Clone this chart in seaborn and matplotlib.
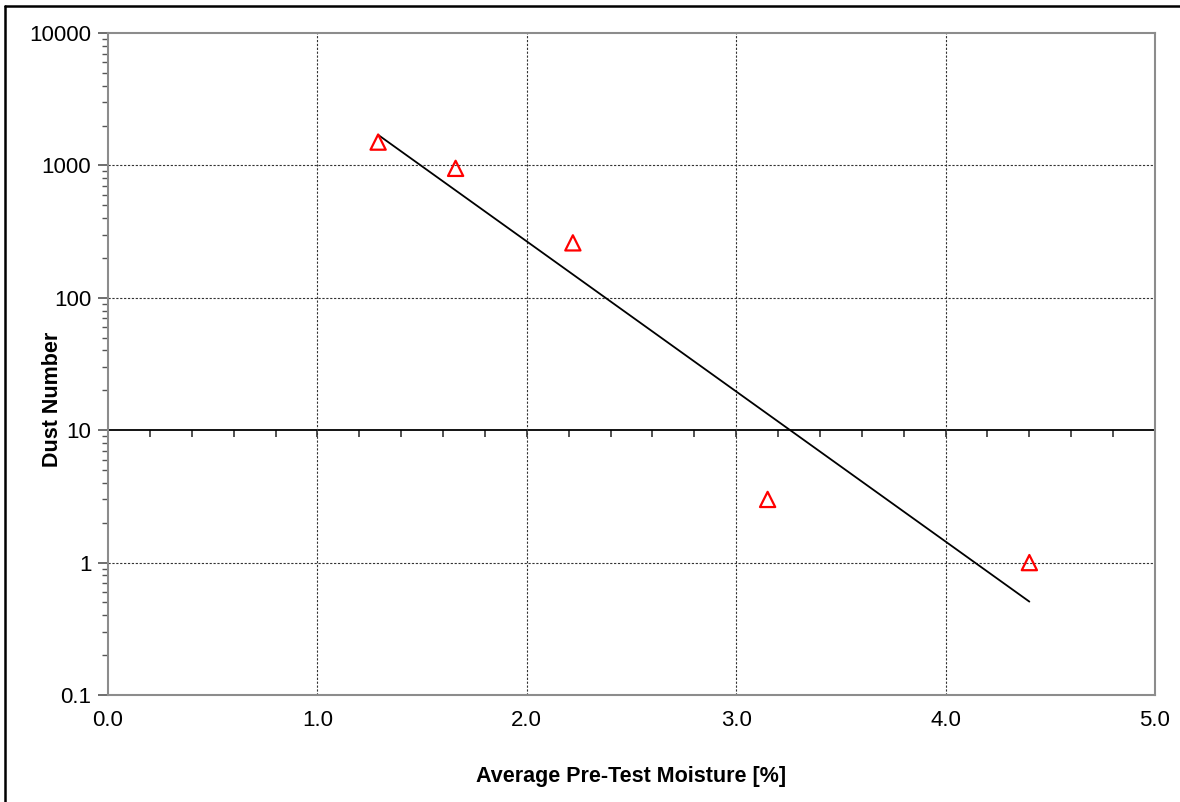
import numpy as np
import pandas as pd
import seaborn as sns
import matplotlib
matplotlib.use("Agg")
import matplotlib.pyplot as plt
from matplotlib.ticker import LogLocator, NullFormatter
from matplotlib.lines import Line2D

# Data
moisture = [1.29, 1.66, 2.22, 3.15, 4.40]
dust_number = [1500, 950, 260, 3.0, 1.0]

x_ticks = [0.0, 1.0, 2.0, 3.0, 4.0, 5.0]
x_tick_labels = ["0.0", "1.0", "2.0", "3.0", "4.0", "5.0"]
y_ticks = [0.1, 1, 10, 100, 1000, 10000]
y_tick_labels = ["0.1", "1", "10", "100", "1000", "10000"]

sns.set_theme(style="white")
plt.rcParams['font.family'] = ['Liberation Sans', 'DejaVu Sans']
plt.rcParams['text.color'] = 'black'
plt.rcParams['axes.labelcolor'] = 'black'
plt.rcParams['xtick.labelcolor'] = 'black'
plt.rcParams['ytick.labelcolor'] = 'black'

fig = plt.figure(figsize=(11.8, 8.02), dpi=100)
ax = fig.add_axes([108/1180, 1-695/802, (1155-108)/1180, (695-33)/802])

df = pd.DataFrame({"x": moisture, "y": dust_number})

# Exponential trend line (least squares on log values)
slope, intercept = np.polyfit(df["x"], np.log(df["y"]), 1)
trend = pd.DataFrame({"x": [min(moisture), max(moisture)]})
trend["y"] = np.exp(intercept + slope * trend["x"])

ax.set_yscale("log")
ax.set_xlim(0, 5)
ax.set_ylim(0.1, 10000)

# grid
for xv in x_ticks[1:-1]:
    ax.axvline(xv, color="#333333", lw=0.8, ls=(0, (2, 1.5)), zorder=1)
for yv in y_ticks[1:-1]:
    if yv == 10:
        continue
    ax.axhline(yv, color="#333333", lw=0.8, ls=(0, (2, 1.5)), zorder=1)

sns.lineplot(data=trend, x="x", y="y", ax=ax, color="black", lw=1.3, zorder=3)
sns.scatterplot(data=df, x="x", y="y", ax=ax, marker="^", s=120,
                facecolor="none", edgecolor="#ff0000", linewidth=1.6, zorder=4)

ax.set_xticks(x_ticks)
ax.set_xticklabels(x_tick_labels, fontsize=16, color="black")
ax.tick_params(axis="x", length=0, pad=11)
ax.set_yticks(y_ticks)
ax.set_yticklabels(y_tick_labels, fontsize=16, color="black")
ax.yaxis.set_minor_locator(LogLocator(base=10, subs=np.arange(2, 10)))
ax.yaxis.set_minor_formatter(NullFormatter())
ax.tick_params(axis="y", which="major", direction="out", length=7, width=1.2,
               color="#555555", left=True, pad=5)
ax.tick_params(axis="y", which="minor", direction="out", length=4, width=1.0,
               color="#555555", left=True)

for s in ax.spines.values():
    s.set_color("#8c8c8c")
    s.set_linewidth(1.5)

# secondary axis line at y = 10 with minor ticks
sec = ax.secondary_xaxis(0.4)
sec.set_xticks(np.round(np.arange(0, 5.01, 0.2), 1))
sec.tick_params(axis="x", direction="out", length=5, width=1.2, color="#333333",
                labelbottom=False, labeltop=False, bottom=True, top=False)
sec.spines["bottom"].set_color("black")
sec.spines["bottom"].set_linewidth(1.3)
sec.spines["top"].set_visible(False)
sec.xaxis.set_ticks_position("bottom")
sec.set_xticklabels([])

ax.set_xlabel("Average Pre-Test Moisture [%]", fontsize=15.5, fontweight="bold", color="black")
ax.set_ylabel("Dust Number", fontsize=15.5, fontweight="bold", color="black")
ax.xaxis.set_label_coords(0.5, -0.107)
ax.yaxis.set_label_coords(-0.043, 0.446)

# outer frame (left and top edges visible)
fig.add_artist(Line2D([5/1180, 5/1180], [0, 1-6/802], transform=fig.transFigure,
                      color="black", lw=1.8))
fig.add_artist(Line2D([5/1180, 1], [1-6/802, 1-6/802], transform=fig.transFigure,
                      color="black", lw=1.8))

fig.savefig("out.png", dpi=100)
